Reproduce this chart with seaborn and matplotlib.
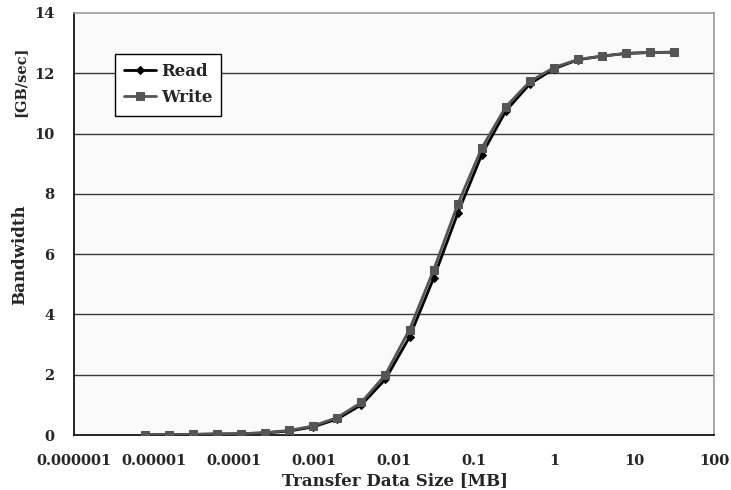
import numpy as np
import pandas as pd
import matplotlib
matplotlib.use("Agg")
import matplotlib.pyplot as plt
import seaborn as sns

# Transfer sizes in MB (2^-17 ... 2^5)
sizes_mb = [7.62939453125e-06, 1.52587890625e-05, 3.0517578125e-05, 6.103515625e-05,
            0.0001220703125, 0.000244140625, 0.00048828125, 0.0009765625,
            0.001953125, 0.00390625, 0.0078125, 0.015625, 0.03125, 0.0625,
            0.125, 0.25, 0.5, 1, 2, 4, 8, 16, 32]
read_bw = [0.01, 0.01, 0.02, 0.03, 0.04, 0.07, 0.13, 0.27, 0.53, 1.0, 1.85, 3.25,
           5.2, 7.35, 9.3, 10.75, 11.65, 12.15, 12.45, 12.57, 12.66, 12.69, 12.70]
write_bw = [0.01, 0.01, 0.02, 0.04, 0.04, 0.08, 0.15, 0.30, 0.58, 1.08, 2.0, 3.5,
            5.47, 7.65, 9.52, 10.89, 11.73, 12.19, 12.46, 12.57, 12.66, 12.69, 12.70]
x_ticks = [1e-6, 1e-5, 1e-4, 1e-3, 1e-2, 1e-1, 1, 10, 100]
x_tick_labels = ["0.000001", "0.00001", "0.0001", "0.001", "0.01", "0.1", "1", "10", "100"]
y_ticks = [0, 2, 4, 6, 8, 10, 12, 14]

sns.set_style("white")
plt.rcParams['font.family'] = ['DejaVu Serif']

df_read = pd.DataFrame({"size": sizes_mb, "bw": read_bw})
df_write = pd.DataFrame({"size": sizes_mb, "bw": write_bw})

fig = plt.figure(figsize=(7.31, 4.90), dpi=100)
ax = fig.add_axes([74/731, 1-435/490, (714-74)/731, (435-13)/490])
ax.set_facecolor("#fafafa")

sns.lineplot(data=df_read, x="size", y="bw", ax=ax, color="black", linewidth=2.0,
             marker="D", markersize=4.5, markeredgecolor="black", label="Read", zorder=3)
sns.lineplot(data=df_write, x="size", y="bw", ax=ax, color="#555555", linewidth=2.0,
             marker="s", markersize=5.5, markeredgecolor="#555555", label="Write", zorder=4)

ax.set_xscale("log")
ax.set_xlim(1e-6, 100)
ax.set_ylim(0, 14)
ax.set_xticks(x_ticks)
ax.set_xticklabels(x_tick_labels)
ax.minorticks_off()
ax.set_yticks(y_ticks)
for y in y_ticks[1:-1]:
    ax.axhline(y, color="#3a3a3a", linewidth=1.0, zorder=1)

ax.tick_params(axis="x", direction="in", length=5, width=1, color="black", pad=14,
               labelsize=10.5)
ax.tick_params(axis="y", length=0, pad=14, labelsize=10.5)
for lab in ax.get_xticklabels() + ax.get_yticklabels():
    lab.set_fontweight("bold")

for side in ["left", "bottom"]:
    ax.spines[side].set_color("black")
    ax.spines[side].set_linewidth(1.2)
for side in ["top", "right"]:
    ax.spines[side].set_color("#999999")
    ax.spines[side].set_linewidth(1.2)

ax.set_xlabel("")
ax.set_ylabel("")
fig.text(395/731, 1-481/490, "Transfer Data Size [MB]", ha="center", va="center",
         fontsize=12, fontweight="bold")
fig.text(20/731, 1-255/490, "Bandwidth", ha="center", va="center", rotation=90,
         fontsize=12, fontweight="bold")
fig.text(20/731, 1-82/490, "[GB/sec]", ha="center", va="center", rotation=90,
         fontsize=10.5, fontweight="bold")

leg = ax.legend(loc="upper left", bbox_to_anchor=((115-74)/640, 1-(54-13)/422),
                frameon=True, fancybox=False, framealpha=1, edgecolor="black",
                handlelength=1.9, handletextpad=0.3, borderpad=0.55, labelspacing=0.55,
                borderaxespad=0, prop={"weight": "bold", "size": 12})
leg.get_frame().set_linewidth(1.0)

fig.savefig("out.png", dpi=100)
